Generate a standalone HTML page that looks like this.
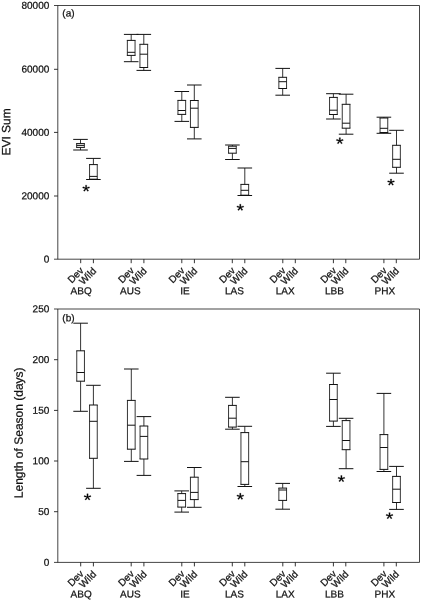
<!DOCTYPE html>
<html><head><meta charset="utf-8"><title>chart</title>
<style>html,body{margin:0;padding:0;background:#fff}svg{display:block;will-change:transform;opacity:0.999}text{font-family:"Liberation Sans",sans-serif;fill:#111;stroke:#111;stroke-width:0.25px}</style>
</head><body>
<svg width="421" height="600" viewBox="0 0 421 600">
<rect width="421" height="600" fill="#fff"/>
<g fill="none" stroke="#181818" stroke-width="1">
<path stroke="#111" stroke-width="0.78" d="M54.0 5.5H419.5V259.2H54.0M57.8 5.5V259.2"/>
<path stroke="#111" stroke-width="0.85" d="M54.0 69.3H57.8M54.0 132.4H57.8M54.0 196.0H57.8M80.7 259.2v4M131.2 259.2v4M181.8 259.2v4M232.3 259.2v4M282.8 259.2v4M333.4 259.2v4M383.9 259.2v4M93.4 259.2v4M143.9 259.2v4M194.4 259.2v4M244.8 259.2v4M295.3 259.2v4M345.8 259.2v4M396.3 259.2v4"/>
<path stroke="#111" stroke-width="0.78" d="M54.0 309.0H419.5V562.4H54.0M57.8 309.0V562.4"/>
<path stroke="#111" stroke-width="0.85" d="M54.0 359.7H57.8M54.0 410.4H57.8M54.0 461.0H57.8M54.0 511.7H57.8M80.7 562.4v4M131.2 562.4v4M181.8 562.4v4M232.3 562.4v4M282.8 562.4v4M333.4 562.4v4M383.9 562.4v4M93.4 562.4v4M143.9 562.4v4M194.4 562.4v4M244.8 562.4v4M295.3 562.4v4M345.8 562.4v4M396.3 562.4v4"/>
<path stroke="#363636" d="M80.5 139.4V143.6M76.65 143.6V147.4M84.35 143.6V147.4M80.5 147.4V150.0M93.4 158.4V164.6M89.55 164.6V179.2M97.25 164.6V179.2M93.4 179.2V179.5M131.2 34.4V40.4M127.35 40.4V55.4M135.05 40.4V55.4M131.2 55.4V61.7M143.8 34.4V44.3M139.95 44.3V67.5M147.65 44.3V67.5M143.8 67.5V70.4M181.8 91.5V100.4M177.95 100.4V114.4M185.65 100.4V114.4M181.8 114.4V121.4M194.3 85.0V100.5M190.45 100.5V127.4M198.15 100.5V127.4M194.3 127.4V138.9M232.4 145.0V146.2M228.55 146.2V153.2M236.25 146.2V153.2M232.4 153.2V159.5M244.8 168.0V184.4M240.95 184.4V195.2M248.65 184.4V195.2M244.8 195.2V195.5M282.7 68.4V77.3M278.85 77.3V88.5M286.55 77.3V88.5M282.7 88.5V95.2M333.4 93.7V97.4M329.55 97.4V114.5M337.25 97.4V114.5M333.4 114.5V119.0M346.1 94.2V104.3M342.25 104.3V128.2M349.95 104.3V128.2M346.1 128.2V134.2M383.9 117.2V118.0M380.05 118.0V132.5M387.75 118.0V132.5M383.9 132.5V133.3M396.5 130.3V145.3M392.65 145.3V167.3M400.35 145.3V167.3M396.5 167.3V173.2M80.6 323.2V350.8M76.75 350.8V381.2M84.45 350.8V381.2M80.6 381.2V411.3M93.4 385.3V405.0M89.55 405.0V458.3M97.25 405.0V458.3M93.4 458.3V488.3M131.3 369.0V400.4M127.45 400.4V449.2M135.15 400.4V449.2M131.3 449.2V461.4M143.9 416.6V426.0M140.05 426.0V459.0M147.75 426.0V459.0M143.9 459.0V475.4M181.7 490.9V493.6M177.85 493.6V507.1M185.55 493.6V507.1M181.7 507.1V512.1M194.3 467.5V477.2M190.45 477.2V499.6M198.15 477.2V499.6M194.3 499.6V507.3M232.4 397.3V405.4M228.55 405.4V427.1M236.25 405.4V427.1M232.4 427.1V429.2M244.8 426.3V432.6M240.95 432.6V484.4M248.65 432.6V484.4M244.8 484.4V486.5M282.7 483.4V488.1M278.85 488.1V500.4M286.55 488.1V500.4M282.7 500.4V509.2M333.4 373.2V384.5M329.55 384.5V421.1M337.25 384.5V421.1M333.4 421.1V426.4M346.1 418.3V420.6M342.25 420.6V449.7M349.95 420.6V449.7M346.1 449.7V468.7M383.9 393.4V434.6M380.05 434.6V469.4M387.75 434.6V469.4M383.9 469.4V471.5M396.5 466.4V476.4M392.65 476.4V502.5M400.35 476.4V502.5M396.5 502.5V509.4"/>
<path stroke="#111" d="M73.2 139.4H87.8M76.15 143.6H84.85M76.15 147.4H84.85M76.65 145.4H84.35M73.2 150.0H87.8M86.1 158.4H100.7M89.05 164.6H97.75M89.05 179.2H97.75M89.55 176.4H97.25M86.1 179.5H100.7M123.9 34.4H138.5M126.85 40.4H135.55M126.85 55.4H135.55M127.35 52.3H135.05M123.9 61.7H138.5M136.5 34.4H151.1M139.45 44.3H148.15M139.45 67.5H148.15M139.95 54.2H147.65M136.5 70.4H151.1M174.5 91.5H189.1M177.45 100.4H186.15M177.45 114.4H186.15M177.95 110.5H185.65M174.5 121.4H189.1M187.0 85.0H201.6M189.95 100.5H198.65M189.95 127.4H198.65M190.45 108.2H198.15M187.0 138.9H201.6M225.1 145.0H239.7M228.05 146.2H236.75M228.05 153.2H236.75M228.55 148.4H236.25M225.1 159.5H239.7M237.5 168.0H252.1M240.45 184.4H249.15M240.45 195.2H249.15M240.95 190.3H248.65M237.5 195.5H252.1M275.4 68.4H290.0M278.35 77.3H287.05M278.35 88.5H287.05M278.85 81.7H286.55M275.4 95.2H290.0M326.1 93.7H340.7M329.05 97.4H337.75M329.05 114.5H337.75M329.55 110.2H337.25M326.1 119.0H340.7M338.8 94.2H353.4M341.75 104.3H350.45M341.75 128.2H350.45M342.25 123.2H349.95M338.8 134.2H353.4M376.6 117.2H391.2M379.55 118.0H388.25M379.55 132.5H388.25M380.05 128.3H387.75M376.6 133.3H391.2M389.2 130.3H403.8M392.15 145.3H400.85M392.15 167.3H400.85M392.65 159.3H400.35M389.2 173.2H403.8M73.3 323.2H87.9M76.25 350.8H84.95M76.25 381.2H84.95M76.75 372.5H84.45M73.3 411.3H87.9M86.1 385.3H100.7M89.05 405.0H97.75M89.05 458.3H97.75M89.55 421.3H97.25M86.1 488.3H100.7M124.0 369.0H138.6M126.95 400.4H135.65M126.95 449.2H135.65M127.45 425.2H135.15M124.0 461.4H138.6M136.6 416.6H151.2M139.55 426.0H148.25M139.55 459.0H148.25M140.05 436.4H147.75M136.6 475.4H151.2M174.4 490.9H189.0M177.35 493.6H186.05M177.35 507.1H186.05M177.85 500.4H185.55M174.4 512.1H189.0M187.0 467.5H201.6M189.95 477.2H198.65M189.95 499.6H198.65M190.45 492.4H198.15M187.0 507.3H201.6M225.1 397.3H239.7M228.05 405.4H236.75M228.05 427.1H236.75M228.55 418.2H236.25M225.1 429.2H239.7M237.5 426.3H252.1M240.45 432.6H249.15M240.45 484.4H249.15M240.95 461.7H248.65M237.5 486.5H252.1M275.4 483.4H290.0M278.35 488.1H287.05M278.35 500.4H287.05M278.85 490.0H286.55M275.4 509.2H290.0M326.1 373.2H340.7M329.05 384.5H337.75M329.05 421.1H337.75M329.55 399.5H337.25M326.1 426.4H340.7M338.8 418.3H353.4M341.75 420.6H350.45M341.75 449.7H350.45M342.25 440.5H349.95M338.8 468.7H353.4M376.6 393.4H391.2M379.55 434.6H388.25M379.55 469.4H388.25M380.05 447.5H387.75M376.6 471.5H391.2M389.2 466.4H403.8M392.15 476.4H400.85M392.15 502.5H400.85M392.65 489.2H400.35M389.2 509.4H403.8"/>
</g>
<g font-size="10" text-anchor="end">
<text transform="translate(49.30,8.80) rotate(0.03)">80000</text>
<text transform="translate(49.30,72.60) rotate(0.03)">60000</text>
<text transform="translate(49.30,135.70) rotate(0.03)">40000</text>
<text transform="translate(49.30,199.30) rotate(0.03)">20000</text>
<text transform="translate(49.30,262.50) rotate(0.03)">0</text>
<text transform="translate(49.30,312.30) rotate(0.03)">250</text>
<text transform="translate(49.30,362.98) rotate(0.03)">200</text>
<text transform="translate(49.30,413.66) rotate(0.03)">150</text>
<text transform="translate(49.30,464.34) rotate(0.03)">100</text>
<text transform="translate(49.30,515.02) rotate(0.03)">50</text>
<text transform="translate(49.30,565.70) rotate(0.03)">0</text>
<text transform="translate(84.3,271.2) rotate(-45)">Dev</text>
<text transform="translate(134.8,271.2) rotate(-45)">Dev</text>
<text transform="translate(185.4,271.2) rotate(-45)">Dev</text>
<text transform="translate(235.9,271.2) rotate(-45)">Dev</text>
<text transform="translate(286.4,271.2) rotate(-45)">Dev</text>
<text transform="translate(337.0,271.2) rotate(-45)">Dev</text>
<text transform="translate(387.5,271.2) rotate(-45)">Dev</text>
<text transform="translate(96.9,271.6) rotate(-45)">Wild</text>
<text transform="translate(147.4,271.6) rotate(-45)">Wild</text>
<text transform="translate(197.9,271.6) rotate(-45)">Wild</text>
<text transform="translate(248.3,271.6) rotate(-45)">Wild</text>
<text transform="translate(298.8,271.6) rotate(-45)">Wild</text>
<text transform="translate(349.3,271.6) rotate(-45)">Wild</text>
<text transform="translate(399.8,271.6) rotate(-45)">Wild</text>
<text transform="translate(84.3,574.4) rotate(-45)">Dev</text>
<text transform="translate(134.8,574.4) rotate(-45)">Dev</text>
<text transform="translate(185.4,574.4) rotate(-45)">Dev</text>
<text transform="translate(235.9,574.4) rotate(-45)">Dev</text>
<text transform="translate(286.4,574.4) rotate(-45)">Dev</text>
<text transform="translate(337.0,574.4) rotate(-45)">Dev</text>
<text transform="translate(387.5,574.4) rotate(-45)">Dev</text>
<text transform="translate(96.9,574.8) rotate(-45)">Wild</text>
<text transform="translate(147.4,574.8) rotate(-45)">Wild</text>
<text transform="translate(197.9,574.8) rotate(-45)">Wild</text>
<text transform="translate(248.3,574.8) rotate(-45)">Wild</text>
<text transform="translate(298.8,574.8) rotate(-45)">Wild</text>
<text transform="translate(349.3,574.8) rotate(-45)">Wild</text>
<text transform="translate(399.8,574.8) rotate(-45)">Wild</text>
</g>
<g font-size="10" text-anchor="middle">
<text transform="translate(81.15,294.30) rotate(0.03)">ABQ</text>
<text transform="translate(130.40,294.30) rotate(0.03)">AUS</text>
<text transform="translate(184.90,294.30) rotate(0.03)">IE</text>
<text transform="translate(234.40,294.30) rotate(0.03)">LAS</text>
<text transform="translate(285.20,294.30) rotate(0.03)">LAX</text>
<text transform="translate(334.50,294.30) rotate(0.03)">LBB</text>
<text transform="translate(384.80,294.30) rotate(0.03)">PHX</text>
<text transform="translate(81.15,597.40) rotate(0.03)">ABQ</text>
<text transform="translate(130.40,597.40) rotate(0.03)">AUS</text>
<text transform="translate(184.90,597.40) rotate(0.03)">IE</text>
<text transform="translate(234.40,597.40) rotate(0.03)">LAS</text>
<text transform="translate(285.20,597.40) rotate(0.03)">LAX</text>
<text transform="translate(334.50,597.40) rotate(0.03)">LBB</text>
<text transform="translate(384.80,597.40) rotate(0.03)">PHX</text>
</g>
<g font-size="10">
<text transform="translate(62.30,16.60) rotate(0.03)">(a)</text>
<text transform="translate(62.30,321.20) rotate(0.03)">(b)</text>
</g>
<g font-size="12" text-anchor="middle">
<text transform="translate(10.3,131.9) rotate(-89.97)">EVI Sum</text>
<text transform="translate(22.7,432.8) rotate(-89.97)">Length of Season (days)</text>
</g>
<g fill="#000" stroke="#000" stroke-width="30">
<path d="M456 1114 720 1217 765 1085 483 1012 668 762 549 690 399 948 243 692 124 764 313 1012 33 1085 78 1219 345 1112 333 1409H469Z" transform="translate(86.10,188.25) scale(0.00956,-0.00861) translate(-399,-1049.5)"/>
<path d="M456 1114 720 1217 765 1085 483 1012 668 762 549 690 399 948 243 692 124 764 313 1012 33 1085 78 1219 345 1112 333 1409H469Z" transform="translate(240.30,207.35) scale(0.00956,-0.00861) translate(-399,-1049.5)"/>
<path d="M456 1114 720 1217 765 1085 483 1012 668 762 549 690 399 948 243 692 124 764 313 1012 33 1085 78 1219 345 1112 333 1409H469Z" transform="translate(339.80,140.75) scale(0.00956,-0.00861) translate(-399,-1049.5)"/>
<path d="M456 1114 720 1217 765 1085 483 1012 668 762 549 690 399 948 243 692 124 764 313 1012 33 1085 78 1219 345 1112 333 1409H469Z" transform="translate(391.00,182.15) scale(0.00956,-0.00861) translate(-399,-1049.5)"/>
<path d="M456 1114 720 1217 765 1085 483 1012 668 762 549 690 399 948 243 692 124 764 313 1012 33 1085 78 1219 345 1112 333 1409H469Z" transform="translate(87.50,496.95) scale(0.00956,-0.00861) translate(-399,-1049.5)"/>
<path d="M456 1114 720 1217 765 1085 483 1012 668 762 549 690 399 948 243 692 124 764 313 1012 33 1085 78 1219 345 1112 333 1409H469Z" transform="translate(240.30,496.35) scale(0.00956,-0.00861) translate(-399,-1049.5)"/>
<path d="M456 1114 720 1217 765 1085 483 1012 668 762 549 690 399 948 243 692 124 764 313 1012 33 1085 78 1219 345 1112 333 1409H469Z" transform="translate(341.40,478.65) scale(0.00956,-0.00861) translate(-399,-1049.5)"/>
<path d="M456 1114 720 1217 765 1085 483 1012 668 762 549 690 399 948 243 692 124 764 313 1012 33 1085 78 1219 345 1112 333 1409H469Z" transform="translate(389.50,515.75) scale(0.00956,-0.00861) translate(-399,-1049.5)"/>
</g>
</svg></body></html>
